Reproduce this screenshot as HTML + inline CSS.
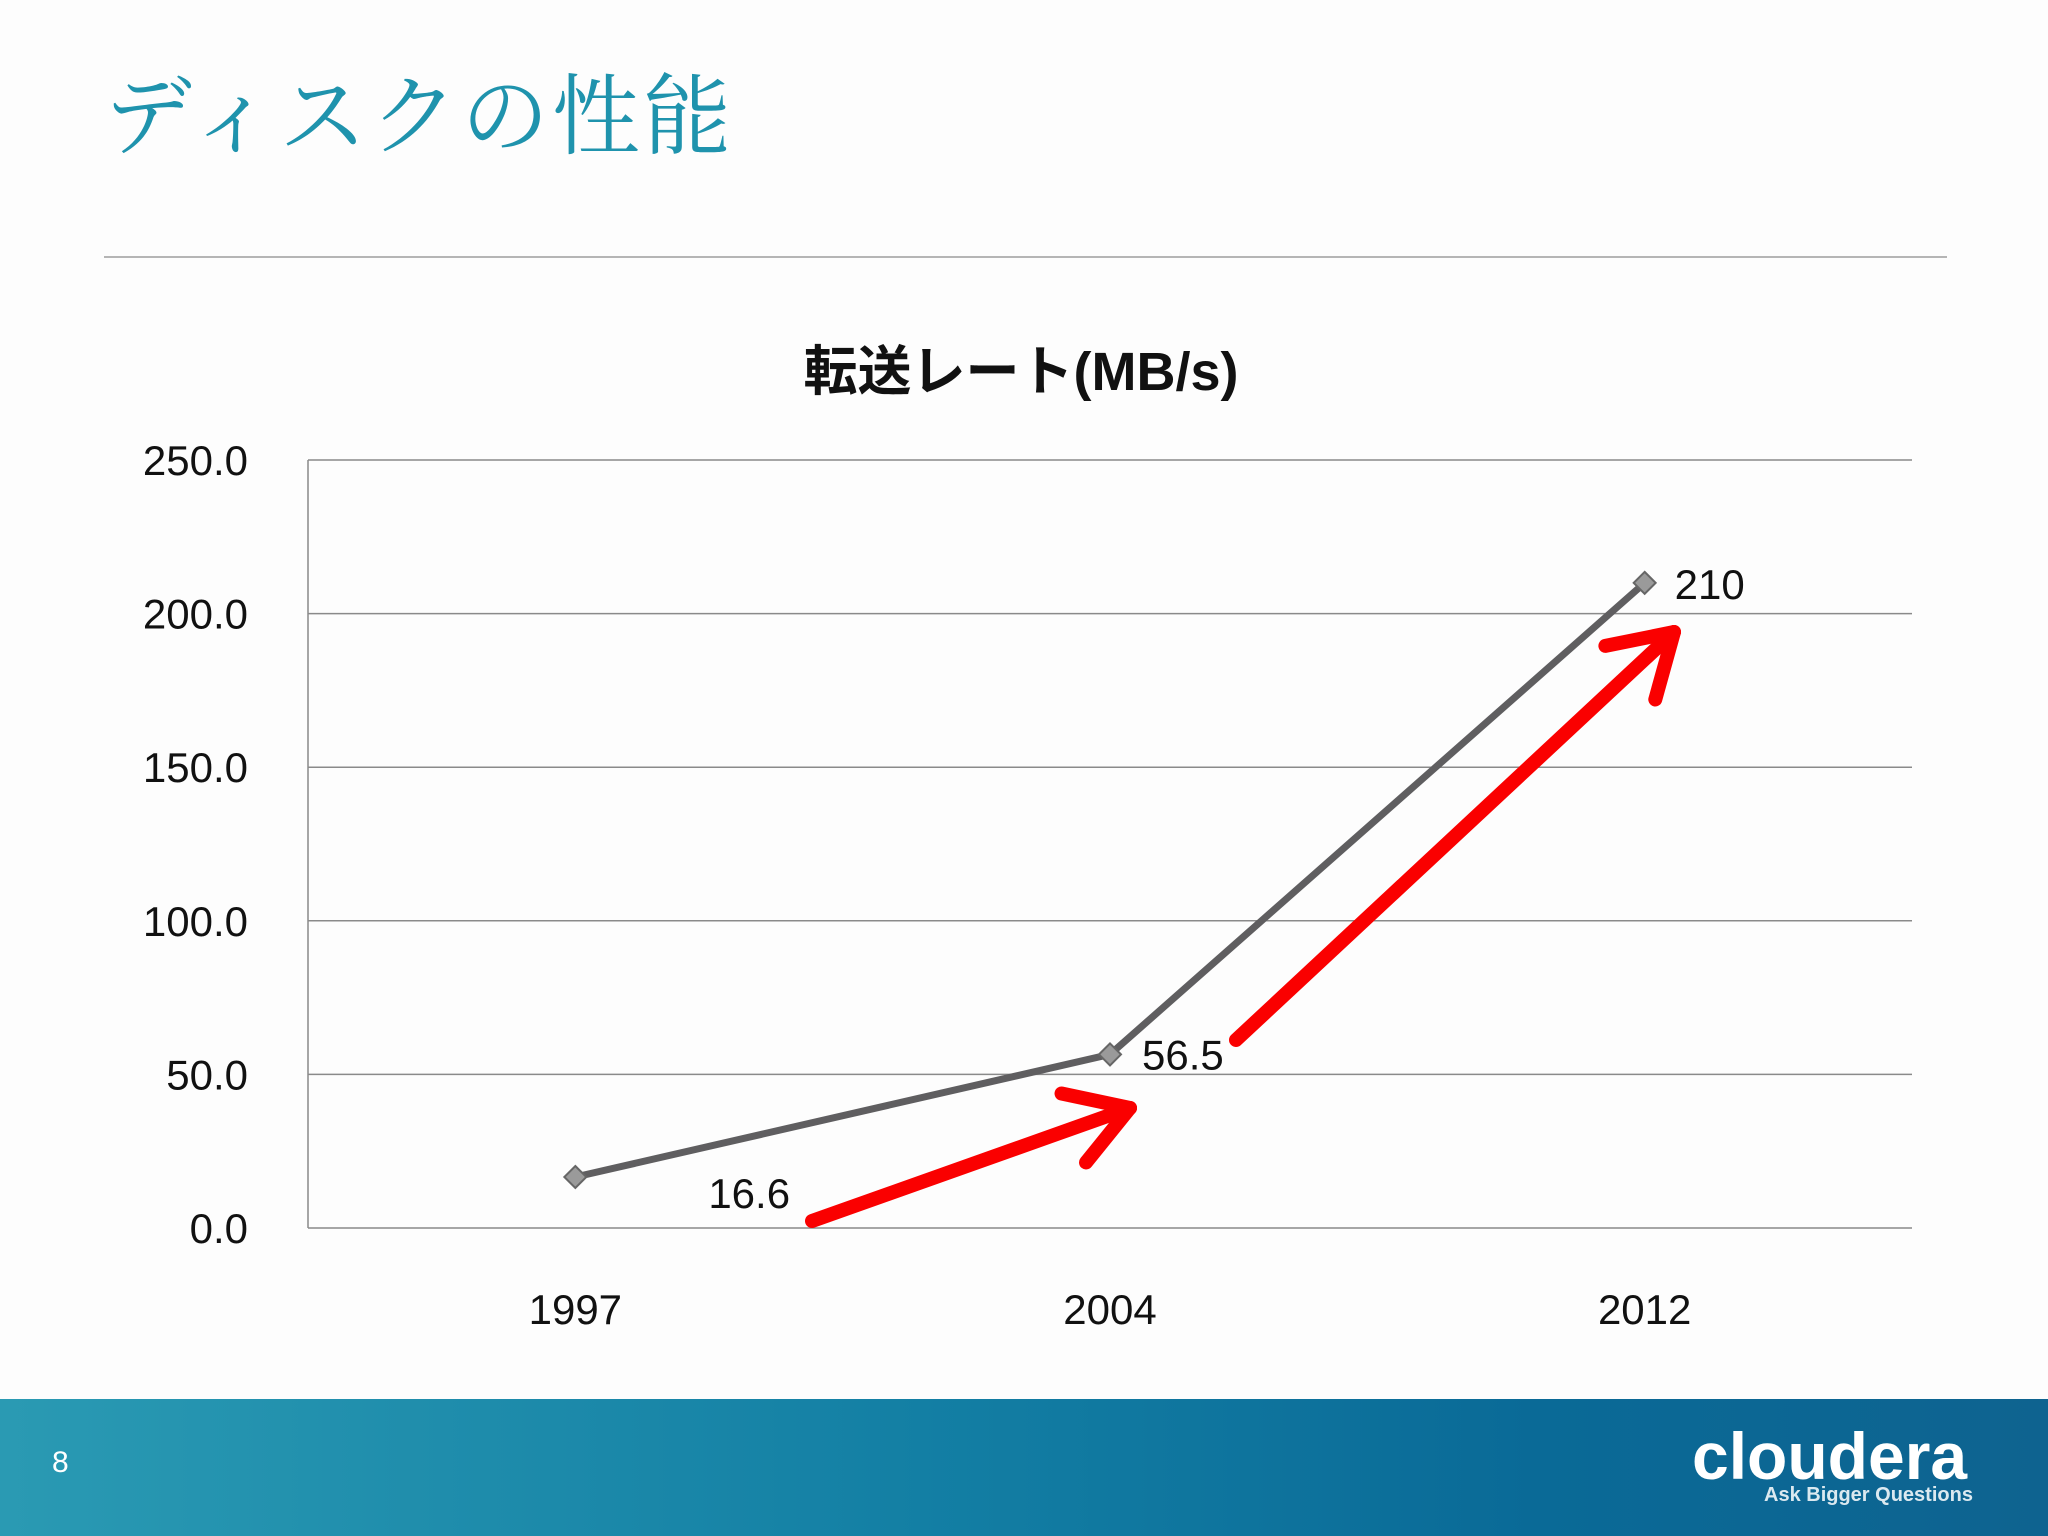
<!DOCTYPE html>
<html><head><meta charset="utf-8">
<style>
html,body{margin:0;padding:0;background:#fff;}
#root{position:relative;width:2048px;height:1536px;overflow:hidden;background:#fdfdfd;font-family:"Liberation Sans","Noto Sans CJK JP",sans-serif;}
#title{position:absolute;left:104px;top:47px;font-family:"Liberation Serif","Noto Serif CJK SC",serif;font-size:88px;color:#1f93ad;letter-spacing:3px;white-space:nowrap;}
#rule{position:absolute;left:104px;top:256px;width:1843px;height:2px;background:#b5b5b5;}
#footer{position:absolute;left:0;top:1399px;width:2048px;height:137px;background:linear-gradient(to right,#2a9ab3 0%,#137fa4 45%,#0a6a97 75%,#0e6390 100%);}
#pagenum{position:absolute;left:52px;top:1446px;color:#fff;font-size:30px;}
#logo{position:absolute;left:1692px;top:1418px;color:#fff;font-weight:bold;font-size:66px;letter-spacing:0px;}
#tagline{position:absolute;left:1764px;top:1484px;color:#dbe9f0;font-size:20px;font-weight:bold;}
</style></head><body>
<div id="root">
<div id="title">ディスクの性能</div>
<div id="rule"></div>
<svg id="chart" width="2048" height="1536" style="position:absolute;left:0;top:0" xmlns="http://www.w3.org/2000/svg"></svg>
<div id="footer"></div>
<div id="pagenum">8</div>
<div id="logo">cloudera</div>
<div id="tagline">Ask Bigger Questions</div>
</div>
<script>
const categories = ["1997","2004","2012"];
const values = [16.6, 56.5, 210];
const valueLabels = ["16.6","56.5","210"];
const yTicks = [0,50,100,150,200,250];
const yTickLabels = ["0.0","50.0","100.0","150.0","200.0","250.0"];

const NS="http://www.w3.org/2000/svg";
const svg=document.getElementById('chart');
const L=308,R=1912,T=460,B=1228,yMax=250;
const bw=(R-L)/categories.length;
const x=i=>L+bw*(i+0.5);
const y=v=>B-(v/yMax)*(B-T);
function mk(tag,attrs){const e=document.createElementNS(NS,tag);for(const k in attrs)e.setAttribute(k,attrs[k]);svg.appendChild(e);return e;}

let t=mk('text',{x:1021,y:390,'text-anchor':'middle','font-size':54,'font-weight':'bold',fill:'#111'});
t.textContent='転送レート(MB/s)';



yTicks.forEach((v,i)=>{
  const g=mk('line',{x1:L,x2:R,y1:y(v),y2:y(v),stroke:'#8a8a8a','stroke-width':1.5});
  
  
  const lb=mk('text',{x:248,y:y(v)+15,'text-anchor':'end','font-size':42,fill:'#111'});
  lb.textContent=yTickLabels[i];
  
  
});
const ax=mk('line',{x1:L,x2:L,y1:T,y2:B,stroke:'#8a8a8a','stroke-width':1.5});



categories.forEach((c,i)=>{
  const lb=mk('text',{x:x(i),y:1324,'text-anchor':'middle','font-size':42,fill:'#111'});
  lb.textContent=c;
  
  
});

const pl=mk('polyline',{points:values.map((v,i)=>x(i)+','+y(v)).join(' '),fill:'none',stroke:'#5f5e60','stroke-width':7});



const offs=[[133,17],[32,1],[30,2]];
values.forEach((v,i)=>{
  const cx=x(i),cy=y(v),r=11;
  const d=mk('polygon',{points:`${cx},${cy-r} ${cx+r},${cy} ${cx},${cy+r} ${cx-r},${cy}`,fill:'#9a9a9a',stroke:'#666','stroke-width':2});
  
  
  const lb=mk('text',{x:cx+offs[i][0],y:cy+offs[i][1]+14,'font-size':42,fill:'#111'});
  lb.textContent=valueLabels[i];
  
  
});

function arrow(x1,y1,x2,y2,name){
  const g=document.createElementNS(NS,'g');svg.appendChild(g);
  
  
  const a=Math.atan2(y2-y1,x2-x1),h=70,sp=0.55;
  const p=(ang)=>[x2-h*Math.cos(a+ang),y2-h*Math.sin(a+ang)];
  const [ax1,ay1]=p(sp),[ax2,ay2]=p(-sp);
  [[x1,y1,x2,y2],[ax1,ay1,x2,y2],[ax2,ay2,x2,y2]].forEach(s=>{
    const l=document.createElementNS(NS,'line');
    l.setAttribute('x1',s[0]);l.setAttribute('y1',s[1]);l.setAttribute('x2',s[2]);l.setAttribute('y2',s[3]);
    l.setAttribute('stroke','#fa0000');l.setAttribute('stroke-width',14);l.setAttribute('stroke-linecap','round');
    g.appendChild(l);
  });
}
arrow(812,1221,1130,1108,'red-arrow-1');
arrow(1236,1040,1674,632,'red-arrow-2');
</script>
</body></html>
